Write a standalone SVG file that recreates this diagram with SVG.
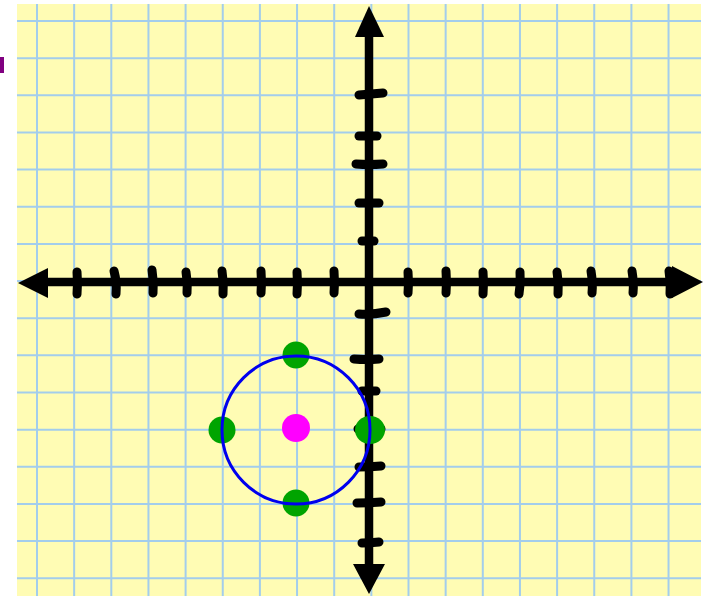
<svg xmlns="http://www.w3.org/2000/svg" width="714" height="596" viewBox="0 0 714 596">
<style>
.grid line{stroke:#a3cdec;stroke-width:2}
.axis{stroke:#000;stroke-width:8.5;fill:none}
.tick{stroke:#000;stroke-width:9;fill:none;stroke-linecap:round}
.arrow{fill:#000}
.pt{fill:#00a400}
</style>
<rect x="0" y="0" width="714" height="596" fill="#ffffff"/>
<rect x="17" y="4" width="684" height="592" fill="#fffcb4"/>
<rect x="0" y="57" width="4" height="16" fill="#800080"/>
<g class="grid" id="grid">
<line x1="37" y1="4" x2="37" y2="596"/>
<line x1="74.15" y1="4" x2="74.15" y2="596"/>
<line x1="111.3" y1="4" x2="111.3" y2="596"/>
<line x1="148.45" y1="4" x2="148.45" y2="596"/>
<line x1="185.6" y1="4" x2="185.6" y2="596"/>
<line x1="222.75" y1="4" x2="222.75" y2="596"/>
<line x1="259.9" y1="4" x2="259.9" y2="596"/>
<line x1="297.05" y1="4" x2="297.05" y2="596"/>
<line x1="334.2" y1="4" x2="334.2" y2="596"/>
<line x1="371.35" y1="4" x2="371.35" y2="596"/>
<line x1="408.5" y1="4" x2="408.5" y2="596"/>
<line x1="445.65" y1="4" x2="445.65" y2="596"/>
<line x1="482.8" y1="4" x2="482.8" y2="596"/>
<line x1="519.95" y1="4" x2="519.95" y2="596"/>
<line x1="557.1" y1="4" x2="557.1" y2="596"/>
<line x1="594.25" y1="4" x2="594.25" y2="596"/>
<line x1="631.4" y1="4" x2="631.4" y2="596"/>
<line x1="668.55" y1="4" x2="668.55" y2="596"/>
<line x1="17" y1="21" x2="701" y2="21"/>
<line x1="17" y1="58.15" x2="701" y2="58.15"/>
<line x1="17" y1="95.3" x2="701" y2="95.3"/>
<line x1="17" y1="132.45" x2="701" y2="132.45"/>
<line x1="17" y1="169.6" x2="701" y2="169.6"/>
<line x1="17" y1="206.75" x2="701" y2="206.75"/>
<line x1="17" y1="243.9" x2="701" y2="243.9"/>
<line x1="17" y1="281.05" x2="701" y2="281.05"/>
<line x1="17" y1="318.2" x2="701" y2="318.2"/>
<line x1="17" y1="355.35" x2="701" y2="355.35"/>
<line x1="17" y1="392.5" x2="701" y2="392.5"/>
<line x1="17" y1="429.65" x2="701" y2="429.65"/>
<line x1="17" y1="466.8" x2="701" y2="466.8"/>
<line x1="17" y1="503.95" x2="701" y2="503.95"/>
<line x1="17" y1="541.1" x2="701" y2="541.1"/>
<line x1="17" y1="578.25" x2="701" y2="578.25"/>
</g>
<g id="connectors">
<g id="x-axis">
<line class="axis" x1="40" y1="282" x2="680" y2="282"/>
<polygon class="arrow" points="18,283 48,268 48,298"/>
<polygon class="arrow" points="703,282 672,266 672,298"/>
<path class="tick" d="M77,272 Q78,283 77,294"/>
<path class="tick" d="M114,271 Q117,282 116,294"/>
<path class="tick" d="M152,270 Q154,282 153,293"/>
<path class="tick" d="M186,272 Q188,283 187,293"/>
<path class="tick" d="M222,271 Q224,283 223,294"/>
<path class="tick" d="M261,271 Q262,283 261,293"/>
<path class="tick" d="M297,272 Q298,283 297,294"/>
<path class="tick" d="M334,271 Q335,283 334,293"/>
<path class="tick" d="M408,272 Q409,283 408,293"/>
<path class="tick" d="M446,271 Q447,283 446,293"/>
<path class="tick" d="M483,272 Q484,283 483,294"/>
<path class="tick" d="M520,272 Q521,283 519,294"/>
<path class="tick" d="M557,272 Q559,283 558,294"/>
<path class="tick" d="M591,271 Q593,283 592,293"/>
<path class="tick" d="M632,271 Q634,283 633,293"/>
<path class="tick" d="M669,271 Q671,283 670,294"/>
</g>
<g id="y-axis">
<line class="axis" x1="369" y1="30" x2="369" y2="570"/>
<polygon class="arrow" points="369,6 355,37 384,37"/>
<polygon class="arrow" points="369,594 353,564 385,564"/>
<path class="tick" d="M359,95 Q371,94 383,93"/>
<path class="tick" d="M359,136 Q368,136 377,136"/>
<path class="tick" d="M356,164 Q369,165 383,164"/>
<path class="tick" d="M359,203 Q369,203 379,203"/>
<path class="tick" d="M362,241 Q368,241 374,241"/>
<path class="tick" d="M359,314 Q372,315 386,312"/>
<path class="tick" d="M354,359 Q366,360 379,359"/>
<path class="tick" d="M362,391 Q369,391 376,391"/>
<path class="tick" d="M358,429 Q369,430 381,429"/>
<path class="tick" d="M359,467 Q370,467 381,466"/>
<path class="tick" d="M357,503 Q369,503 381,502"/>
<path class="tick" d="M362,543 Q370,543 379,542"/>
</g>
</g>
<g id="point-top"><circle class="pt" cx="296" cy="355" r="13.5"/></g>
<g id="point-left"><circle class="pt" cx="222" cy="430" r="13.5"/></g>
<g id="point-right"><ellipse class="pt" cx="370" cy="430" rx="15" ry="14"/></g>
<g id="point-bottom"><circle class="pt" cx="296" cy="503" r="13.5"/></g>
<g id="center"><circle cx="296" cy="428" r="14" fill="#ff00ff"/></g>
<g id="circle"><circle cx="296" cy="430" r="74" fill="none" stroke="#0000ee" stroke-width="3"/></g>
</svg>
